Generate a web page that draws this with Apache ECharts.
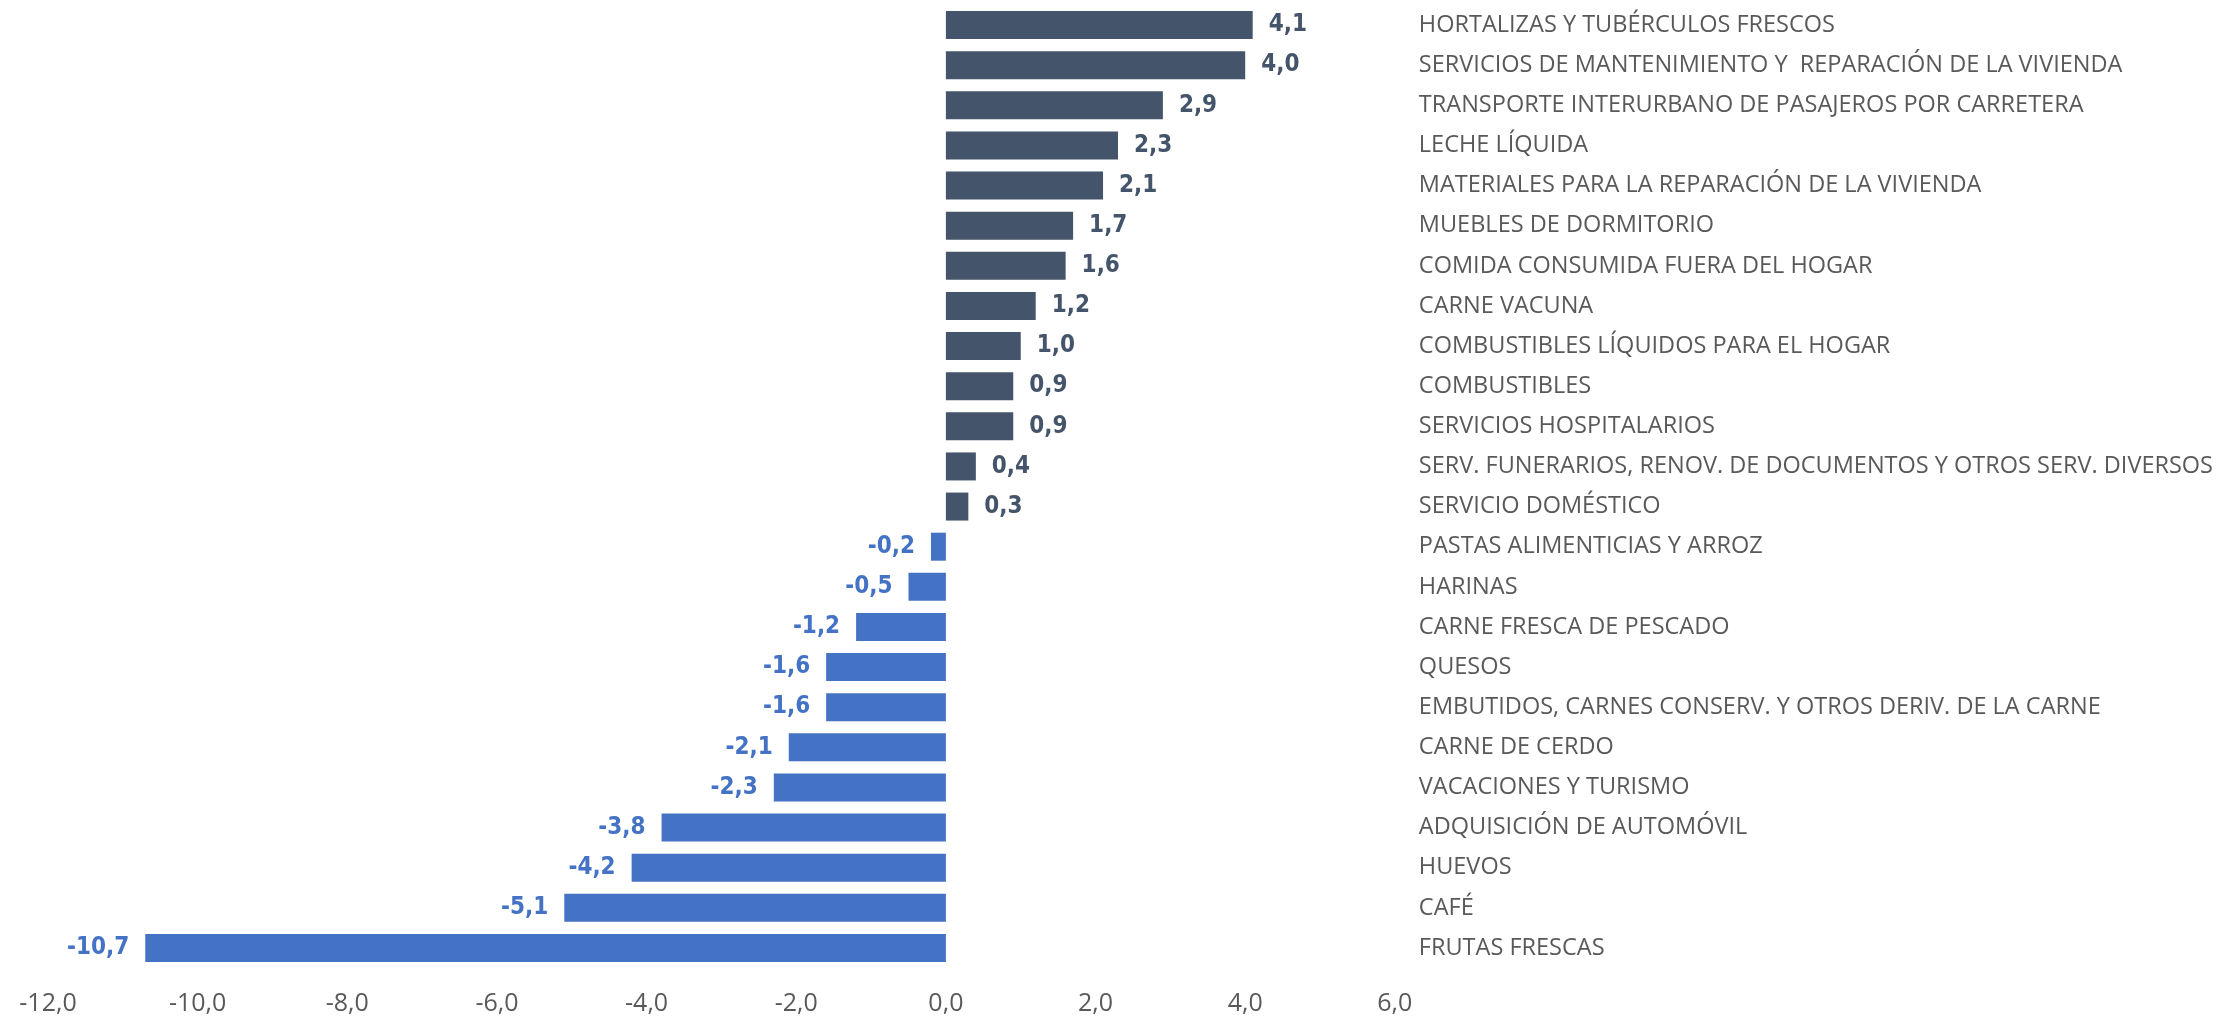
<!DOCTYPE html>
<html>
<head>
<meta charset="utf-8">
<script src="https://cdn.jsdelivr.net/npm/echarts@6/dist/echarts.min.js"></script>
<style>
  html, body { margin: 0; padding: 0; background: #ffffff; }
  #chart { width: 2216px; height: 1019px; }
</style>
</head>
<body>
<div id="chart"></div>
<script>
// Price variation by item (%), largest increases on top
const categories = [
  'HORTALIZAS Y TUBÉRCULOS FRESCOS',
  'SERVICIOS DE MANTENIMIENTO Y  REPARACIÓN DE LA VIVIENDA',
  'TRANSPORTE INTERURBANO DE PASAJEROS POR CARRETERA',
  'LECHE LÍQUIDA',
  'MATERIALES PARA LA REPARACIÓN DE LA VIVIENDA',
  'MUEBLES DE DORMITORIO',
  'COMIDA CONSUMIDA FUERA DEL HOGAR',
  'CARNE VACUNA',
  'COMBUSTIBLES LÍQUIDOS PARA EL HOGAR',
  'COMBUSTIBLES',
  'SERVICIOS HOSPITALARIOS',
  'SERV. FUNERARIOS, RENOV. DE DOCUMENTOS Y OTROS SERV. DIVERSOS',
  'SERVICIO DOMÉSTICO',
  'PASTAS ALIMENTICIAS Y ARROZ',
  'HARINAS',
  'CARNE FRESCA DE PESCADO',
  'QUESOS',
  'EMBUTIDOS, CARNES CONSERV. Y OTROS DERIV. DE LA CARNE',
  'CARNE DE CERDO',
  'VACACIONES Y TURISMO',
  'ADQUISICIÓN DE AUTOMÓVIL',
  'HUEVOS',
  'CAFÉ',
  'FRUTAS FRESCAS'
];

const values = [
  4.1, 4.0, 2.9, 2.3, 2.1, 1.7, 1.6, 1.2, 1.0, 0.9, 0.9, 0.4, 0.3,
  -0.2, -0.5, -1.2, -1.6, -1.6, -2.1, -2.3, -3.8, -4.2, -5.1, -10.7
];

const xTicks = { min: -12, max: 6, step: 2 };

const POS_COLOR = '#44546A';
const NEG_COLOR = '#4472C4';
const fmt = v => v.toFixed(1).replace('.', ',');

const barData = values.map(v => {
  const c = v >= 0 ? POS_COLOR : NEG_COLOR;
  return {
    value: v,
    itemStyle: { color: c },
    label: { position: v >= 0 ? 'right' : 'left', color: c }
  };
});

const chart = echarts.init(document.getElementById('chart'), null, { renderer: 'canvas' });
chart.setOption({
  backgroundColor: '#ffffff',
  animation: false,
  grid: { left: 48, right: 818, top: 5, bottom: 51, containLabel: false },
  xAxis: {
    type: 'value',
    min: xTicks.min,
    max: xTicks.max,
    interval: xTicks.step,
    axisLine: { show: false },
    axisTick: { show: false },
    splitLine: { show: false },
    axisLabel: {
      formatter: v => fmt(v),
      color: '#595959',
      fontSize: 25,
      fontFamily: '"Open Sans", sans-serif',
      margin: 23
    }
  },
  yAxis: {
    type: 'category',
    data: categories,
    inverse: true,
    position: 'right',
    axisLine: { show: false },
    axisTick: { show: false },
    splitLine: { show: false },
    axisLabel: {
      align: 'left',
      margin: 24,
      color: '#595959',
      fontSize: 23.5,
      fontFamily: '"Open Sans", sans-serif'
    }
  },
  series: [{
    type: 'bar',
    data: barData,
    barWidth: 28,
    label: {
      show: true,
      distance: 16,
      formatter: p => fmt(p.value),
      fontSize: 24,
      fontWeight: 'bold',
      fontFamily: '"DejaVu Sans Condensed", "Liberation Sans Narrow", sans-serif'
    }
  }]
});
</script>
</body>
</html>
